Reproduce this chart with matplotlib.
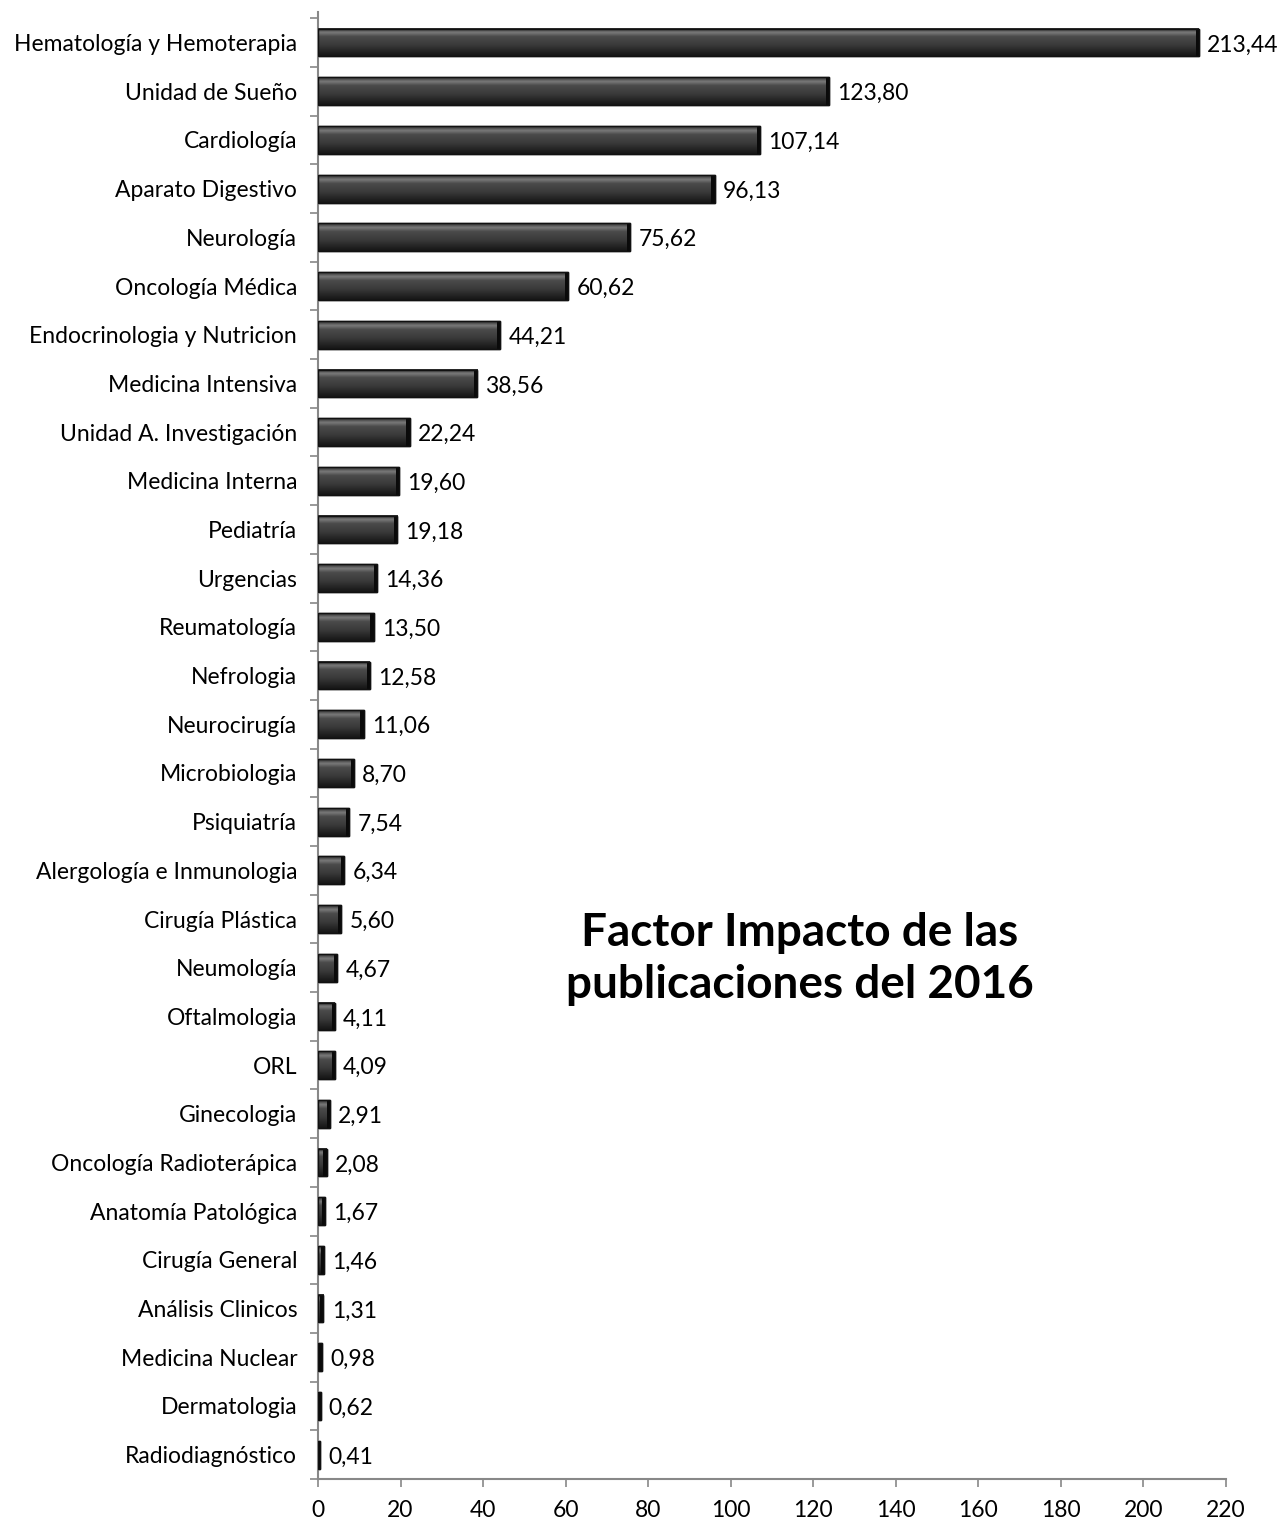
import matplotlib
matplotlib.use("Agg")
import matplotlib.pyplot as plt
import numpy as np
from matplotlib.colors import LinearSegmentedColormap

categories = ["Hematología y Hemoterapia", "Unidad de Sueño", "Cardiología", "Aparato Digestivo",
              "Neurología", "Oncología Médica", "Endocrinologia y Nutricion", "Medicina Intensiva",
              "Unidad A. Investigación", "Medicina Interna", "Pediatría", "Urgencias",
              "Reumatología", "Nefrologia", "Neurocirugía", "Microbiologia", "Psiquiatría",
              "Alergología e Inmunologia", "Cirugía Plástica", "Neumología", "Oftalmologia",
              "ORL", "Ginecologia", "Oncología Radioterápica", "Anatomía Patológica",
              "Cirugía General", "Análisis Clinicos", "Medicina Nuclear", "Dermatologia",
              "Radiodiagnóstico"]
values = [213.44, 123.80, 107.14, 96.13, 75.62, 60.62, 44.21, 38.56, 22.24, 19.60, 19.18,
          14.36, 13.50, 12.58, 11.06, 8.70, 7.54, 6.34, 5.60, 4.67, 4.11, 4.09, 2.91, 2.08,
          1.67, 1.46, 1.31, 0.98, 0.62, 0.41]
xticks = list(range(0, 221, 20))
title_text = "Factor Impacto de las\npublicaciones del 2016"

plt.rcParams['font.family'] = ['Lato', 'DejaVu Sans']

fig = plt.figure(figsize=(12.81, 15.21), dpi=100)
ax = fig.add_axes([318/1281, 42/1521, (1226-318)/1281, 1466.6/1521])

n = len(categories)
ypos = np.arange(n)
bh = 0.57
cmap = LinearSegmentedColormap.from_list(
    "bar", [(0.0, "#2a2a2a"), (0.15, "#7a7a7a"), (0.3, "#4a4a4a"), (0.6, "#3a3a3a"), (1.0, "#151515")])
grad = np.linspace(0, 1, 64).reshape(-1, 1)

bars = ax.barh(ypos, values, height=bh, color="#3a3a3a", edgecolor="#111111", linewidth=1.0, zorder=2)
for b, v in zip(bars, values):
    y0 = b.get_y()
    h = b.get_height()
    ax.imshow(grad, extent=(0, v, y0 + h, y0), aspect='auto', cmap=cmap, zorder=3, interpolation='bilinear')
    cap = min(v, 0.8)
    ax.barh(y0 + h / 2, cap, left=v - cap, height=h, color="#0a0a0a", zorder=4, linewidth=0)
    ax.barh(y0 + h / 2, v, height=h, fill=False, edgecolor="#111111", linewidth=1.0, zorder=5)
    lab = f"{v:.2f}".replace(".", ",")
    ax.text(v + 2.0, y0 + h / 2 + 0.05, lab, va='center', ha='left', fontsize=16.5, color="#000000", zorder=6)

ax.set_ylim(n - 0.5, -0.62)
ax.set_xlim(0, 220)
ax.set_yticks(ypos)
ax.set_yticklabels(categories, fontsize=16.5, color="#000000")
ax.set_yticks(np.arange(-0.5, n, 1), minor=True)
ax.tick_params(axis='y', which='major', length=0, pad=15)
ax.tick_params(axis='y', which='minor', length=6, color="#888888", width=1.2)
ax.set_xticks(xticks)
ax.set_xticklabels([str(t) for t in xticks], fontsize=16.5, color="#000000")
ax.tick_params(axis='x', length=6, color="#888888", width=1.2, pad=9)

for s in ['top', 'right']:
    ax.spines[s].set_visible(False)
for s in ['left', 'bottom']:
    ax.spines[s].set_color("#888888")
    ax.spines[s].set_linewidth(1.5)

fig.text(800/1281, 1 - 959/1521, title_text, ha='center', va='center', fontsize=33,
         fontweight='bold', color="#000000", linespacing=1.3)

fig.savefig("out.png", dpi=100)
